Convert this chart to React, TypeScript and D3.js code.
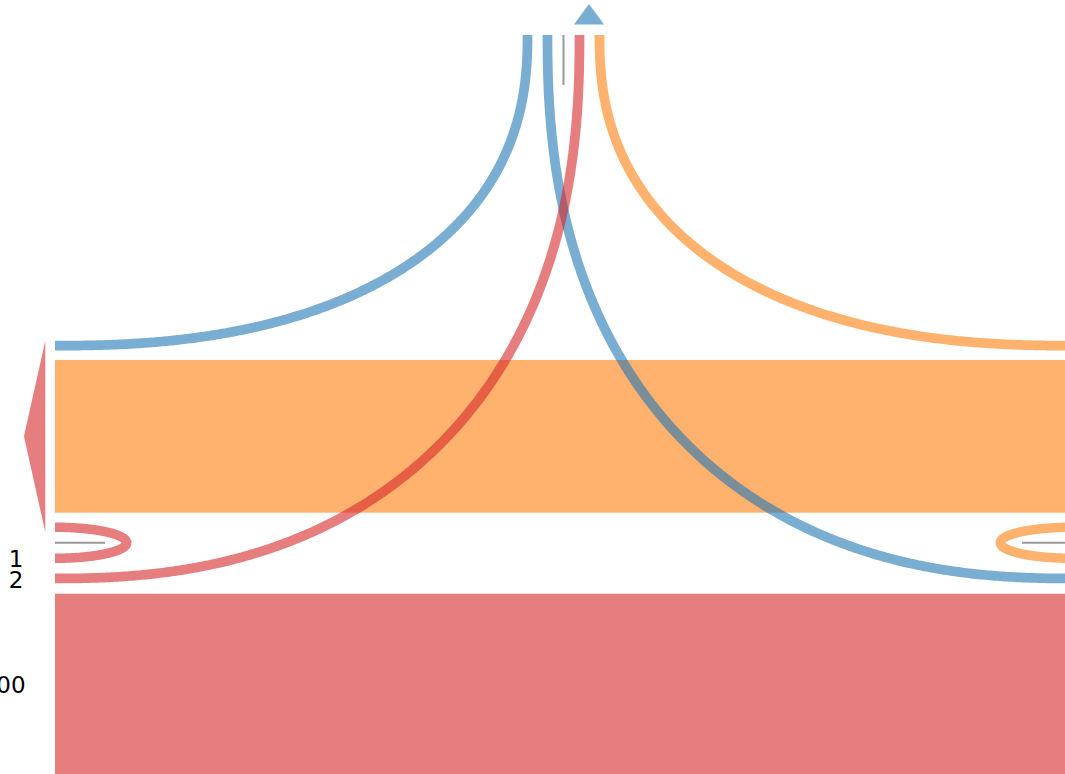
import React from "react";
import * as d3 from "d3";

// ---- data (diagram units; 1 unit = one flow width) ----
const flowNames = ["blue-in", "blue-out", "red-out", "orange-in"];
const flowValues = [1, 1, 1, 1];
const flowTopX = [-3.71, -1.65, 1.65, 3.71];
const flowSideX = [-52.42, 52.42, -52.42, 52.42];
const flowSideY = [32.03, 56.03, 56.03, 32.03];
const flowColors = ["#1f77b4", "#1f77b4", "#d62728", "#ff7f0e"];

const bandNames = ["orange", "red"];
const bandStart = [33.5, 57.6];
const bandValues = [15.75, 32];
const bandColors = ["#ff7f0e", "#d62728"];

const loopSide = [-1, 1];
const loopAnchorX = [-52.42, 52.42];
const loopCenterY = [52.35, 52.35];
const loopReach = [7.39, 7.39];
const loopHalfHeight = [1.6, 1.6];
const loopColors = ["#d62728", "#ff7f0e"];

const guideX1 = [0, -52.42, 47.27];
const guideX2 = [0, -47.27, 52.42];
const guideY1 = [0, 52.35, 52.35];
const guideY2 = [5.15, 52.35, 52.35];

const arrowTipX = [-55.62, 2.63];
const arrowTipY = [41.38, -3.2];
const arrowBaseA = [[-53.42, 31.52], [1.08, -1.09]];
const arrowBaseB = [[-53.42, 51.24], [4.18, -1.09]];
const arrowColors = ["#d62728", "#1f77b4"];

const labelTexts = ["1", "2", "100"];
const labelX = [-56.44, -56.44, -55.46];
const labelY = [54.85, 57.0, 67.84];
const labelAnchor = ["middle", "middle", "end"];

const W = 1065;
const H = 774;
const EXP = 2.34;
const ALPHA = 0.6;

export default function App() {
  const x = d3.scaleLinear().domain([-52.42, 51.7]).range([55, 1065]);
  const y = d3.scaleLinear().domain([0, 76.19]).range([35, 774]);
  const unit = y(1) - y(0);
  const line = d3.line<[number, number]>().x((d) => x(d[0])).y((d) => y(d[1]));
  const N = 400;

  const flowPaths = flowNames.map((_, i) => {
    const xt = flowTopX[i];
    const xs = flowSideX[i];
    const ys = flowSideY[i];
    const pts: [number, number][] = d3.range(N + 1).map((k) => {
      const th = (k / N) * (Math.PI / 2);
      const X = Math.pow(Math.max(0, Math.cos(th)), 2 / EXP);
      const Y = Math.pow(Math.max(0, Math.sin(th)), 2 / EXP);
      return [xs + (xt - xs) * X, ys * Y];
    });
    return line(pts) as string;
  });

  const loopPaths = loopSide.map((dir, i) => {
    const pts: [number, number][] = d3.range(N + 1).map((k) => {
      const th = -Math.PI / 2 + (k / N) * Math.PI;
      return [
        loopAnchorX[i] - dir * loopReach[i] * Math.cos(th),
        loopCenterY[i] + loopHalfHeight[i] * Math.sin(th),
      ];
    });
    return line(pts) as string;
  });

  return (
    <svg
      width={W}
      height={H}
      style={{ position: "absolute", left: 0, top: 0, background: "#fff" }}
    >
      {bandNames.map((b, i) => (
        <rect
          key={b}
          x={x(-52.42)}
          width={x(52.42) - x(-52.42)}
          y={y(bandStart[i])}
          height={y(bandStart[i] + bandValues[i]) - y(bandStart[i])}
          fill={bandColors[i]}
          fillOpacity={ALPHA}
        />
      ))}
      {loopPaths.map((p, i) => (
        <path
          key={"loop" + i}
          d={p}
          fill="none"
          stroke={loopColors[i]}
          strokeOpacity={ALPHA}
          strokeWidth={unit * 0.98}
        />
      ))}
      {flowPaths.map((p, i) => (
        <path
          key={flowNames[i]}
          d={p}
          fill="none"
          stroke={flowColors[i]}
          strokeOpacity={ALPHA}
          strokeWidth={unit * flowValues[i]}
        />
      ))}
      {guideX1.map((_, i) => (
        <line
          key={"g" + i}
          x1={x(guideX1[i])}
          x2={x(guideX2[i])}
          y1={y(guideY1[i])}
          y2={y(guideY2[i])}
          stroke="#999"
          strokeWidth={2}
        />
      ))}
      {arrowTipX.map((_, i) => (
        <path
          key={"a" + i}
          d={
            "M" + x(arrowBaseA[i][0]) + "," + y(arrowBaseA[i][1]) +
            "L" + x(arrowTipX[i]) + "," + y(arrowTipY[i]) +
            "L" + x(arrowBaseB[i][0]) + "," + y(arrowBaseB[i][1]) + "Z"
          }
          fill={arrowColors[i]}
          fillOpacity={ALPHA}
        />
      ))}
      {labelTexts.map((t, i) => (
        <text
          key={"t" + i}
          x={x(labelX[i])}
          y={y(labelY[i])}
          textAnchor={labelAnchor[i] as any}
          fontFamily="DejaVu Sans"
          fontSize={23}
          fill="#000"
        >
          {t}
        </text>
      ))}
    </svg>
  );
}
